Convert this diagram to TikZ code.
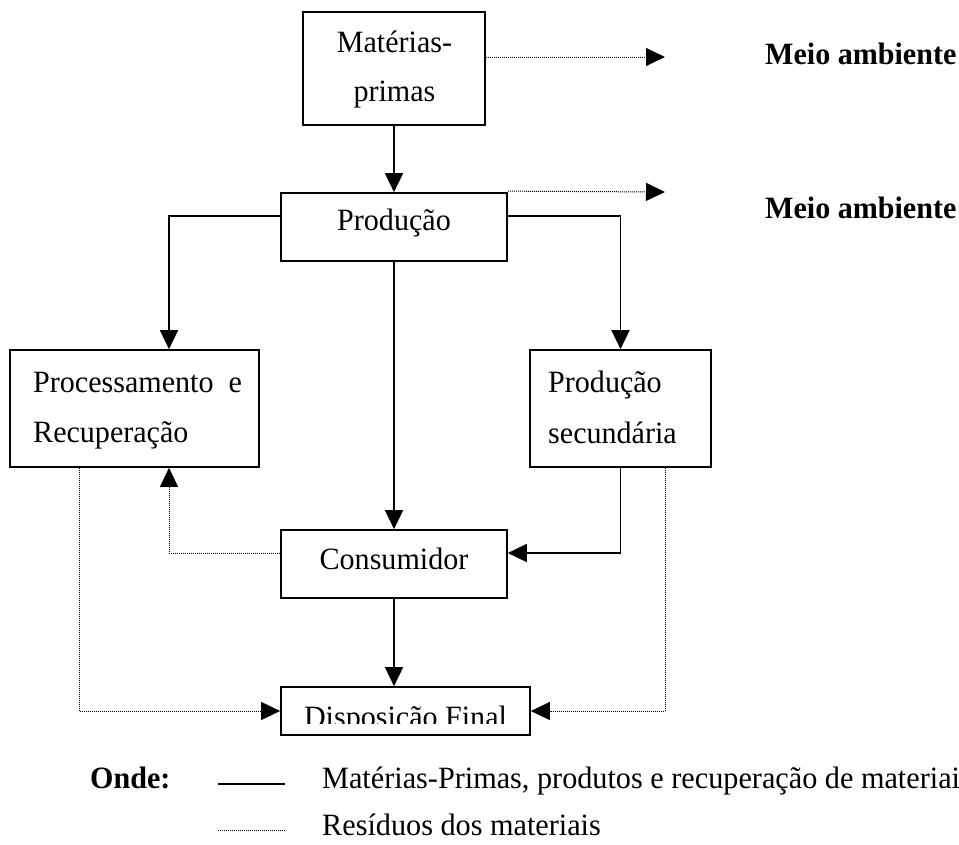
\documentclass[tikz,border=0pt]{standalone}
\usepackage{fontspec}
\setmainfont{Liberation Serif}[FakeStretch=0.97]
\newfontfamily\keyfont{Liberation Serif}[FakeStretch=0.975]
\usetikzlibrary{arrows.meta}
\begin{document}
\begin{tikzpicture}[x=1pt,y=-1pt,
  box/.style={draw=black,line width=1.7pt,fill=white,inner sep=0pt},
  txt/.style={inner sep=0pt,font=\fontsize{31}{36}\selectfont},
  keytxt/.style={inner sep=0pt,font=\fontsize{31}{36}\keyfont},
  flow/.style={line width=1.7pt,-{Triangle[length=19pt,width=18pt]}},
  waste/.style={line width=1pt,dash pattern=on 1pt off 1pt,-{Triangle[length=19pt,width=18pt]}},
  keyline/.style={line width=1.7pt},
  keydots/.style={line width=1pt,dash pattern=on 1pt off 1pt}]
\useasboundingbox (0,0) rectangle (959,844);

% boxes
\node[box,minimum width=182pt,minimum height=113pt] (mat) at (394,68.5) {};
\node[box,minimum width=226pt,minimum height=68pt] (prod) at (394,227) {};
\node[box,minimum width=249pt,minimum height=117pt] (proc) at (134.5,408.5) {};
\node[box,minimum width=181pt,minimum height=117pt] (sec) at (620.5,408.5) {};
\node[box,minimum width=226pt,minimum height=68pt] (cons) at (394,564) {};
\node[box,minimum width=249pt,minimum height=48pt] (disp) at (405.5,711) {};

% box texts
\node[txt,anchor=base] (matA) at (394.5,52) {Matérias-};
\node[txt,anchor=base] (matB) at (394.5,101) {primas};
\node[txt,anchor=base] (prodT) at (394,230) {Produção};
\node[txt,anchor=base west] (procA) at (33,392) {Processamento\ \ e};
\node[txt,anchor=base west] (procB) at (33,442) {Recuperação};
\node[txt,anchor=base west] (secA) at (548,392) {Produção};
\node[txt,anchor=base west] (secB) at (548,443) {secundária};
\node[txt,anchor=base] (consT) at (394,569) {Consumidor};
\begin{scope}
  \clip (282,688) rectangle (529,723);
  \node[txt,anchor=base] (dispT) at (405.5,727) {Disposição Final};
\end{scope}

% environment labels
\node[txt,anchor=base west,font=\fontsize{31}{36}\selectfont\bfseries] (env1) at (765,64) {Meio ambiente};
\node[txt,anchor=base west,font=\fontsize{31}{36}\selectfont\bfseries] (env2) at (765,218) {Meio ambiente};
\coordinate (env1in) at (665,57);
\coordinate (env2in) at (665,192);

% material flows
\draw[flow] (mat.south) -- (prod.north);
\draw[flow] ([yshift=11pt]prod.west) -| ([xshift=34.5pt]proc.north);
\draw[flow] ([yshift=11pt]prod.east) -| (sec.north);
\draw[flow] (prod.south) -- (cons.north);
\draw[flow] (sec.south) |- ([yshift=11pt]cons.east);
\draw[flow] (cons.south) -- (cons.south |- disp.north);

% waste flows
\draw[waste] ([yshift=11.5pt]mat.east) -- (env1in);
\draw[waste] ([yshift=1pt]prod.north east) -- (env2in);
\draw[waste] ([yshift=11pt]cons.west) -| ([xshift=34.5pt]proc.south);
\draw[waste] ([xshift=-55.5pt]proc.south) |- (disp.west);
\draw[waste] ([xshift=44.5pt]sec.south) |- (disp.east);

% key
\node[keytxt,anchor=base west,font=\fontsize{31}{36}\selectfont\bfseries] (onde) at (90,788) {Onde:};
\coordinate (k1a) at (218,784);
\coordinate (k1b) at (285,784);
\coordinate (k2a) at (218,830);
\coordinate (k2b) at (285,830);
\draw[keyline] (k1a) -- (k1b);
\draw[keydots] (k2a) -- (k2b);
\node[keytxt,anchor=base west] (key1) at (322,788) {Matérias-Primas, produtos e recuperação de materiai};
\node[keytxt,anchor=base west] (key2) at (322,835) {Resíduos dos materiais};
\end{tikzpicture}
\end{document}
